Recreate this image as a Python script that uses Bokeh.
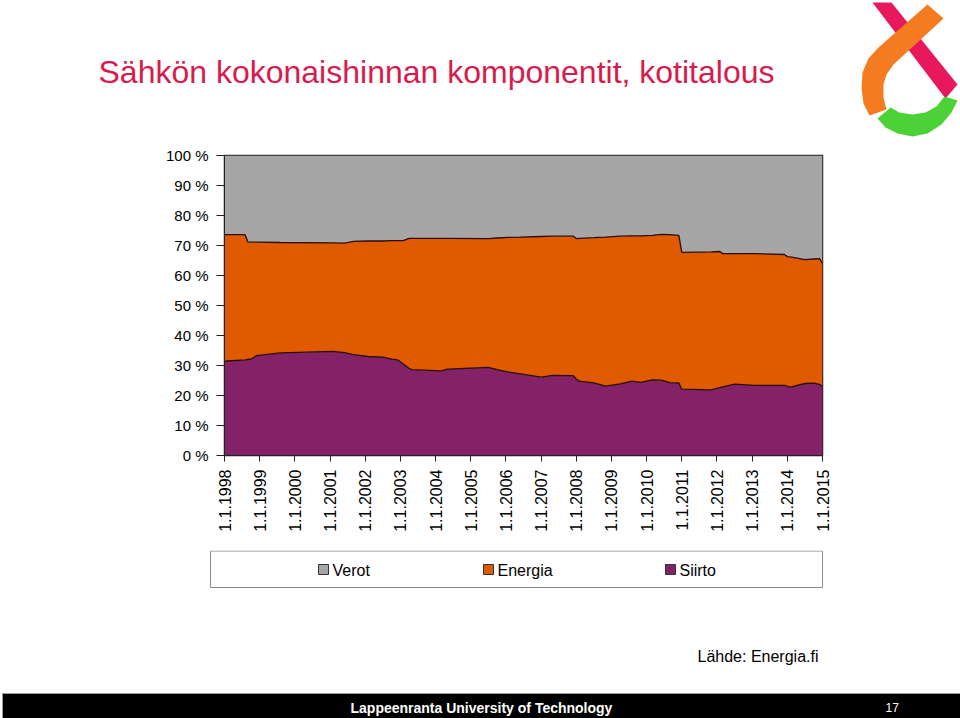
import math
from bokeh.plotting import figure
from bokeh.layouts import column
from bokeh.models import (Range1d, FixedTicker, Label, ColumnDataSource)
from bokeh.embed import file_html
from bokeh.resources import INLINE

# ---- data (share of total household electricity price, %) ----
dates = ["1998-01", "1998-02", "1998-08", "1998-09", "1998-10", "1998-12", "1999-08",
         "2001-02", "2001-06", "2001-09", "2002-02", "2002-07", "2002-10", "2002-12",
         "2003-02", "2003-04", "2003-05", "2004-03", "2004-05", "2005-07", "2005-10",
         "2006-02", "2006-06", "2007-01", "2007-05", "2007-12", "2008-01", "2008-02",
         "2008-07", "2008-11", "2009-04", "2009-08", "2009-11", "2010-03", "2010-06",
         "2010-09", "2010-12", "2011-01", "2011-11", "2012-02", "2012-03", "2012-07",
         "2013-02", "2013-12", "2014-01", "2014-02", "2014-07", "2014-10", "2014-12",
         "2015-01"]
siirto = [31.4, 31.5, 31.9, 32.0, 32.1, 33.3, 34.2,
          34.7, 34.3, 33.6, 33.0, 32.8, 32.1, 31.9,
          30.5, 29.0, 28.6, 28.2, 28.8, 29.4, 28.6,
          27.8, 27.2, 26.1, 26.7, 26.6, 25.5, 24.8,
          24.2, 23.1, 23.9, 24.8, 24.4, 25.2, 25.1,
          24.3, 24.2, 22.1, 21.9, 22.6, 22.9, 23.8,
          23.4, 23.4, 23.1, 22.8, 24.0, 24.1, 23.7,
          23.0]
energia = [42.2, 42.1, 41.7, 39.2, 39.0, 37.8, 36.8,
           36.2, 36.5, 37.8, 38.5, 38.7, 39.5, 39.7,
           41.1, 43.4, 43.8, 44.2, 43.6, 42.9, 43.9,
           44.9, 45.6, 46.9, 46.4, 46.5, 46.8, 47.6,
           48.4, 49.7, 49.2, 48.4, 48.8, 48.2, 48.6,
           49.3, 49.2, 45.6, 46.0, 45.4, 44.4, 43.5,
           43.9, 43.6, 43.2, 43.4, 41.3, 41.4, 41.9,
           41.0]
verot = [26.4, 26.4, 26.4, 28.8, 28.9, 28.9, 29.0,
         29.1, 29.2, 28.6, 28.5, 28.5, 28.4, 28.4,
         28.4, 27.6, 27.6, 27.6, 27.6, 27.7, 27.5,
         27.3, 27.2, 27.0, 26.9, 26.9, 27.7, 27.6,
         27.4, 27.2, 26.9, 26.8, 26.8, 26.6, 26.3,
         26.4, 26.6, 32.3, 32.1, 32.0, 32.7, 32.7,
         32.7, 33.0, 33.7, 33.8, 34.7, 34.5, 34.4,
         36.0]
series_names = ["Verot", "Energia", "Siirto"]
years = list(range(1998, 2016))
x_tick_labels = ["1.1.%d" % y for y in years]
y_ticks = list(range(0, 101, 10))
y_tick_labels = ["%d %%" % v for v in y_ticks]

title_text = "Sähkön kokonaishinnan komponentit, kotitalous"
source_text = "Lähde: Energia.fi"
footer_text = "Lappeenranta University of Technology"
page_number = "17"

# ---- styling ----
C_VEROT = "#A6A6A6"
C_ENERGIA = "#E05A00"
C_SIIRTO = "#832266"
series_colors = [C_VEROT, C_ENERGIA, C_SIIRTO]
FONT = "Liberation Sans"
legend_x = [318, 483, 665]   # page-pixel layout of legend swatches


def blank(height, top):
    f = figure(width=960, height=height, x_range=Range1d(0, 960),
               y_range=Range1d(top + height, top), output_backend="svg",
               toolbar_location=None, x_axis_location=None, y_axis_location=None,
               min_border=0, frame_align=False)
    f.grid.visible = False
    f.outline_line_color = None
    return f


# ---- header: title and logo ----
head = blank(140, 0)
head.add_layout(Label(x=98, y=71, text=title_text, text_font=FONT, text_font_size="32px",
                      text_color="#D81B4C", text_baseline="middle"))
head.patch([872, 891, 957, 945], [2, 2, 84, 98], fill_color="#E8185C", line_alpha=0)
head.patch([927, 878, 868, 862, 861, 863, 869, 886, 883, 883, 886, 893, 943],
           [4, 47, 58, 72, 88, 103, 115, 109, 97, 84, 74, 64, 18],
           fill_color="#F47B20", line_alpha=0)
head.patch([877, 885, 897, 912, 927, 941, 951, 957, 944, 936, 925, 912, 899, 890],
           [118, 127, 133, 136, 133, 124, 112, 100, 96, 106, 112, 114, 112, 107],
           fill_color="#4CD137", line_alpha=0)

# ---- chart ----
x = [int(d[:4]) + (int(d[5:7]) - 1) / 12.0 for d in dates]
src = ColumnDataSource(dict(x=x, siirto=siirto, energia=energia, verot=verot))

p = figure(width=960, height=410, x_range=Range1d(1998, 2015), y_range=Range1d(0, 100),
           output_backend="svg", toolbar_location=None, frame_align=False,
           min_border_left=224, min_border_right=138, min_border_top=15,
           min_border_bottom=95)
p.varea_stack(["siirto", "energia", "verot"], x="x",
              color=[C_SIIRTO, C_ENERGIA, C_VEROT], source=src)
p.vline_stack(["siirto", "energia"], x="x", color="#2a0c08", line_width=1.3, source=src)

p.outline_line_color = "#222222"
p.outline_line_width = 1.5
p.xgrid.grid_line_color = None
p.ygrid.grid_line_color = None

p.xaxis.ticker = FixedTicker(ticks=years)
p.xaxis.major_label_overrides = {y: t for y, t in zip(years, x_tick_labels)}
p.xaxis.major_label_orientation = math.pi / 2
p.yaxis.ticker = FixedTicker(ticks=y_ticks)
p.yaxis.major_label_overrides = {v: t for v, t in zip(y_ticks, y_tick_labels)}
for ax in (p.xaxis[0], p.yaxis[0]):
    ax.axis_line_color = "#222222"
    ax.axis_line_width = 1
    ax.major_tick_line_color = "#222222"
    ax.major_tick_in = 0
    ax.minor_tick_line_color = None
    ax.major_label_text_font = FONT
    ax.major_label_text_color = "black"
p.yaxis.major_tick_out = 8
p.yaxis.major_label_standoff = 8
p.yaxis.major_label_text_font_size = "15px"
p.xaxis.major_tick_out = 6
p.xaxis.major_label_standoff = 8
p.xaxis.major_label_text_font_size = "16px"

# ---- bottom: legend, source, footer ----
bot = blank(168, 550)
bot.quad(left=[210], right=[822], top=[550.5], bottom=[587], fill_alpha=0,
         line_color="#8c8c8c", line_width=1)
for lx, name, col in zip(legend_x, series_names, series_colors):
    bot.quad(left=[lx], right=[lx + 10], top=[564], bottom=[574], fill_color=col,
             line_color="#333333", line_width=1)
    bot.add_layout(Label(x=lx + 14, y=569.5, text=name, text_font=FONT,
                         text_font_size="16px", text_color="black", text_baseline="middle"))
bot.add_layout(Label(x=697, y=656, text=source_text, text_font=FONT, text_font_size="16px",
                     text_color="black", text_baseline="middle"))
bot.quad(left=[2], right=[960], top=[693], bottom=[718], fill_color="black",
         line_color="#9a9a9a", line_width=1)
bot.add_layout(Label(x=350, y=707.5, text=footer_text, text_font=FONT, text_font_size="14px",
                     text_font_style="bold", text_color="white", text_baseline="middle"))
bot.add_layout(Label(x=885, y=707, text=page_number, text_font=FONT, text_font_size="12px",
                     text_color="white", text_baseline="middle"))

layout = column(head, p, bot, spacing=0)
open("out.html", "w").write(file_html(layout, INLINE))
